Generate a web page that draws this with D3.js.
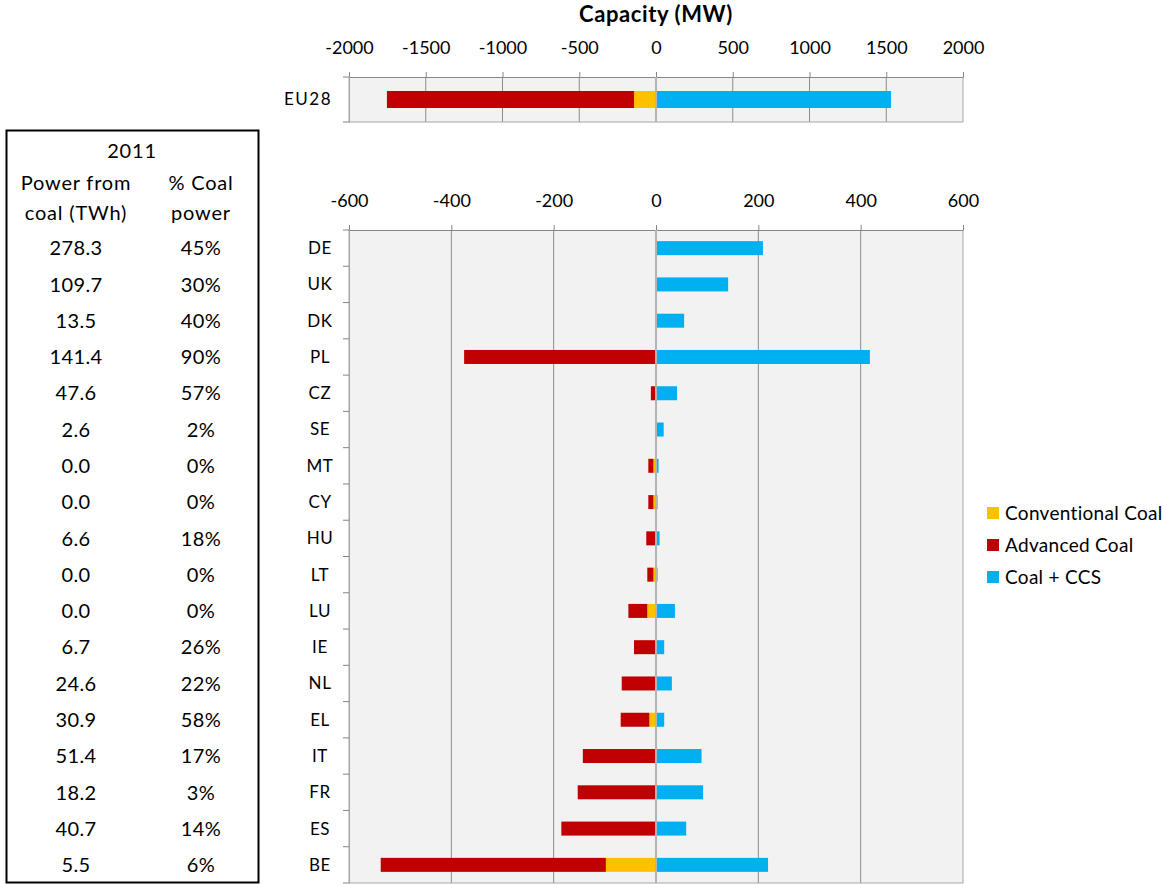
<!DOCTYPE html>
<html><head><meta charset="utf-8">
<script src="https://cdn.jsdelivr.net/npm/d3@7"></script>
<style>body{margin:0;background:#fff}svg{display:block}</style>
</head><body>
<script>
const countries = ["DE","UK","DK","PL","CZ","SE","MT","CY","HU","LT","LU","IE","NL","EL","IT","FR","ES","BE"];
const conventional = [0,0,0,0,0,0,-5,-5,0,-5,-17,0,0,-13,0,0,0,-98];
const advanced = [-1,-1,0,-375,-10,-1,-10,-10,-19,-12,-37,-43,-67,-56,-143,-153,-185,-440];
const ccs = [209,141,55,418,41,15,5,3,7,3,37,16,31,16,89,92,59,219];
const powerTWh = ["278.3","109.7","13.5","141.4","47.6","2.6","0.0","0.0","6.6","0.0","0.0","6.7","24.6","30.9","51.4","18.2","40.7","5.5"];
const pctCoal = ["45%","30%","40%","90%","57%","2%","0%","0%","18%","0%","0%","26%","22%","58%","17%","3%","14%","6%"];
const euLabel = ["EU28"];
const euConventional = [-143];
const euAdvanced = [-1610];
const euCcs = [1531];
const topTicks = [-2000,-1500,-1000,-500,0,500,1000,1500,2000];
const mainTicks = [-600,-400,-200,0,200,400,600];
const seriesNames = ["Conventional Coal","Advanced Coal","Coal + CCS"];
const colors = {"Conventional Coal":"#ffc000","Advanced Coal":"#c00000","Coal + CCS":"#00b0f0"};

const W=1164,H=885;
const font="Lato, 'Open Sans', sans-serif";
const svg=d3.select("body").append("svg").attr("width",W).attr("height",H).style("font-family",font);

const x0=349,x1=963;
// title
svg.append("text").attr("x",656).attr("y",22).attr("text-anchor","middle").attr("font-size",22).attr("font-weight","bold").attr("letter-spacing",0.6).attr("fill","#000").text("Capacity (MW)");

function panel(cfg){
  const xs=d3.scaleLinear().domain(cfg.domain).range([x0,x1]);
  const ys=d3.scaleBand().domain(cfg.cats).range([cfg.top,cfg.bottom]).paddingInner(0).paddingOuter(0);
  const g=svg.append("g");
  g.append("rect").attr("x",x0).attr("y",cfg.top).attr("width",x1-x0).attr("height",cfg.bottom-cfg.top).attr("fill","#f2f2f2");
  g.selectAll(".grid").data(cfg.ticks.filter(t=>t!==0)).join("line")
    .attr("x1",d=>xs(d)).attr("x2",d=>xs(d)).attr("y1",cfg.top).attr("y2",cfg.bottom)
    .attr("stroke",d=>(d===cfg.domain[0]||d===cfg.domain[1])?"#a6a6a6":"#8c8c8c").attr("stroke-width",1);
  g.append("line").attr("x1",x0).attr("x2",x1).attr("y1",cfg.bottom).attr("y2",cfg.bottom).attr("stroke","#a6a6a6");
  const ax=d3.axisTop(xs).tickValues(cfg.ticks).tickSize(5).tickSizeOuter(0).tickFormat(d=>String(d));
  const axg=g.append("g").attr("transform",`translate(0,${cfg.top})`).call(ax);
  axg.select(".domain").attr("stroke","#868686");
  axg.selectAll(".tick line").attr("stroke","#868686");
  axg.selectAll(".tick text").attr("font-size",18).attr("fill","#000").attr("font-family",font).attr("dy",0).attr("y",cfg.labelY-cfg.top);
  const segs=[];
  cfg.cats.forEach((c,i)=>{
    segs.push({c,s:"Conventional Coal",a:0,b:cfg.conv[i]});
    segs.push({c,s:"Advanced Coal",a:cfg.conv[i],b:cfg.conv[i]+cfg.adv[i]});
    segs.push({c,s:"Coal + CCS",a:0,b:cfg.ccs[i]});
  });
  const bh=cfg.barH;
  g.selectAll(".bar").data(segs.filter(s=>s.a!==s.b)).join("rect")
    .attr("x",d=>xs(Math.min(d.a,d.b))).attr("width",d=>Math.abs(xs(d.b)-xs(d.a)))
    .attr("y",d=>ys(d.c)+ys.bandwidth()/2-bh/2).attr("height",bh)
    .attr("fill",d=>colors[d.s]);
  g.append("line").attr("x1",xs(0)).attr("x2",xs(0)).attr("y1",cfg.top).attr("y2",cfg.bottom).attr("stroke","#b3b3b3").attr("stroke-width",2);
  const ay=d3.axisLeft(ys).tickSize(0).tickPadding(0);
  const ayg=g.append("g").attr("transform",`translate(${x0},0)`).call(ay);
  ayg.select(".domain").attr("stroke","#a6a6a6");
  ayg.selectAll(".tick text").attr("font-size",17).attr("letter-spacing",cfg.catLS).attr("fill","#000").attr("font-family",font).attr("text-anchor","middle").attr("x",cfg.catX-x0).attr("dy","0.35em");
  const bounds=cfg.cats.map(c=>ys(c)).concat([cfg.bottom]);
  g.selectAll(".bt").data(bounds).join("line").attr("x1",x0-6).attr("x2",x0).attr("y1",d=>d).attr("y2",d=>d).attr("stroke","#868686");
  return {xs,ys};
}

panel({domain:[-2000,2000],ticks:topTicks,cats:euLabel,top:77,bottom:122,labelY:54,conv:euConventional,adv:euAdvanced,ccs:euCcs,barH:17,catX:308,catLS:1.5});
const main=panel({domain:[-600,600],ticks:mainTicks,cats:countries,top:230,bottom:883,labelY:207,conv:conventional,adv:advanced,ccs:ccs,barH:14,catX:320,catLS:0.6});

// table
svg.append("rect").attr("x",6.5).attr("y",130.5).attr("width",252).attr("height",752).attr("fill","none").attr("stroke","#000").attr("stroke-width",2);
const tf=20, ls=0.8;
const tt=(x,y,s)=>svg.append("text").attr("x",x).attr("y",y).attr("text-anchor","middle").attr("font-size",tf).attr("letter-spacing",ls).text(s);
tt(132,158,"2011");
tt(76,190,"Power from");
tt(76,220,"coal (TWh)");
tt(201,190,"% Coal");
tt(201,220,"power");
const ys=main.ys;
svg.selectAll(".tv").data(countries).join("text").attr("x",76).attr("y",d=>ys(d)+ys.bandwidth()/2).attr("dy","0.36em").attr("text-anchor","middle").attr("font-size",tf).attr("letter-spacing",0.4).text((d,i)=>powerTWh[i]);
svg.selectAll(".tp").data(countries).join("text").attr("x",201).attr("y",d=>ys(d)+ys.bandwidth()/2).attr("dy","0.36em").attr("text-anchor","middle").attr("font-size",tf).attr("letter-spacing",0.4).text((d,i)=>pctCoal[i]);

// legend
const lg=svg.append("g");
seriesNames.forEach((s,i)=>{
  const y=513+i*32;
  lg.append("rect").attr("x",987).attr("y",y-6).attr("width",12).attr("height",12).attr("fill",colors[s]);
  lg.append("text").attr("x",1005).attr("y",y).attr("dy","0.35em").attr("font-size",19).attr("letter-spacing",0.3).text(s);
});
</script>
</body></html>
